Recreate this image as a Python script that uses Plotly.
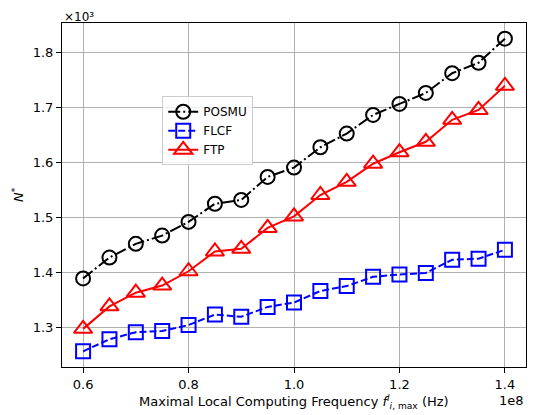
import plotly.graph_objects as go

# x in units of 1e8 Hz, y in units of 1e3
freq = [0.60, 0.65, 0.70, 0.75, 0.80, 0.85, 0.90, 0.95, 1.00, 1.05, 1.10, 1.15, 1.20, 1.25, 1.30, 1.35, 1.40]
posmu = [1.389, 1.427, 1.452, 1.467, 1.492, 1.525, 1.532, 1.574, 1.591, 1.628, 1.653, 1.687, 1.707, 1.727, 1.763, 1.782, 1.826]
flcf = [1.256, 1.278, 1.291, 1.293, 1.304, 1.323, 1.319, 1.337, 1.345, 1.366, 1.375, 1.392, 1.396, 1.399, 1.423, 1.425, 1.441]
ftp = [1.297, 1.338, 1.363, 1.376, 1.402, 1.438, 1.443, 1.481, 1.502, 1.541, 1.565, 1.598, 1.619, 1.638, 1.678, 1.696, 1.740]

x_ticks = [0.6, 0.8, 1.0, 1.2, 1.4]
x_tick_labels = ["0.6", "0.8", "1.0", "1.2", "1.4"]
y_ticks = [1.3, 1.4, 1.5, 1.6, 1.7, 1.8]
y_tick_labels = ["1.3", "1.4", "1.5", "1.6", "1.7", "1.8"]

FONT = "DejaVu Sans"
FS = 13

fig = go.Figure()
fig.add_trace(go.Scatter(
    x=freq, y=posmu, name="POSMU", mode="lines+markers",
    line=dict(color="black", width=2, dash="12px,3px,2px,3px"),
    marker=dict(symbol="circle-open", size=14, color="black", line=dict(width=2, color="black")),
))
fig.add_trace(go.Scatter(
    x=freq, y=flcf, name="FLCF", mode="lines+markers",
    line=dict(color="blue", width=2, dash="7px,3px"),
    marker=dict(symbol="square-open", size=14, color="blue", line=dict(width=2, color="blue")),
))
fig.add_trace(go.Scatter(
    x=freq, y=ftp, name="FTP", mode="lines+markers",
    line=dict(color="red", width=2),
    marker=dict(symbol="triangle-up-open", size=16, color="red", line=dict(width=2, color="red")),
))

axis_common = dict(
    showline=True, linecolor="black", linewidth=1, mirror=True,
    ticks="outside", ticklen=5, tickwidth=1, tickcolor="black",
    showgrid=True, gridcolor="#b0b0b0", gridwidth=1, zeroline=False,
    tickfont=dict(family=FONT, size=FS, color="black"),
    automargin=False,
)

fig.update_layout(
    width=530, height=407,
    paper_bgcolor="white", plot_bgcolor="white",
    margin=dict(l=54, r=12, t=15, b=48, autoexpand=False),
    font=dict(family=FONT, size=FS, color="black"),
    xaxis=dict(range=[0.56, 1.44], tickvals=x_ticks, ticktext=x_tick_labels, **axis_common),
    yaxis=dict(range=[1.2275, 1.8545], tickvals=y_ticks, ticktext=y_tick_labels, **axis_common),
    legend=dict(x=0.216, y=0.787, xanchor="left", yanchor="top",
                bgcolor="rgba(255,255,255,0.8)", bordercolor="#cccccc", borderwidth=1,
                font=dict(family=FONT, size=12), tracegroupgap=0, itemwidth=30),
    showlegend=True,
    annotations=[
        dict(text="×10³", xref="paper", yref="paper", x=0, y=1.043,
             xanchor="left", yanchor="top", showarrow=False,
             font=dict(family=FONT, size=12)),
        dict(text="1e8", xref="paper", yref="paper", x=1.0, y=0,
             xanchor="right", yanchor="top", showarrow=False, yshift=-24,
             font=dict(family=FONT, size=FS)),
        dict(text="Maximal Local Computing Frequency <i>f</i><sup><i>l</i></sup><sub><i>i</i>, max</sub> (Hz)",
             xref="paper", yref="paper", x=0.5, y=0, xanchor="center", yanchor="top",
             showarrow=False, yshift=-24, font=dict(family=FONT, size=FS)),
        dict(text="<i>N</i><sup>*</sup>", xref="paper", yref="paper", x=0, y=0.5,
             xanchor="right", yanchor="middle", textangle=-90, showarrow=False, xshift=-34,
             font=dict(family=FONT, size=FS)),
    ],
)

fig.write_html("out.html")
